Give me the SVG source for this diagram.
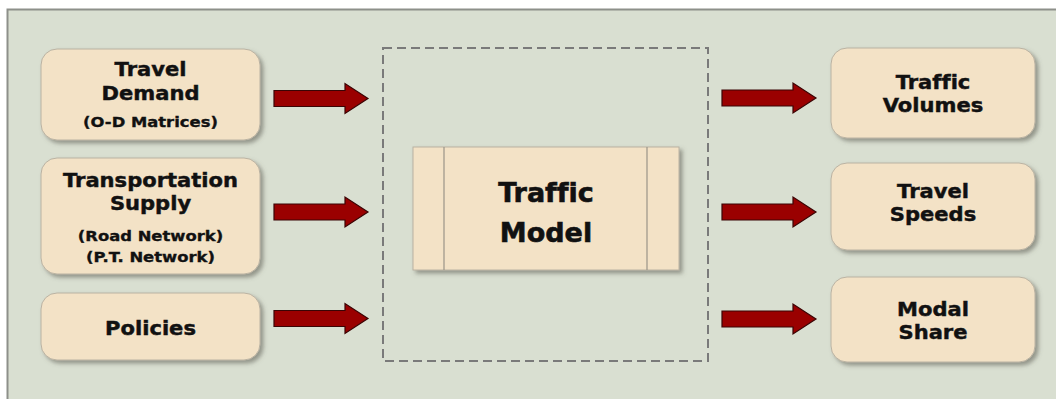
<svg xmlns="http://www.w3.org/2000/svg" width="1056" height="399" viewBox="0 0 1056 399">
  <style>
    text { font-variant-ligatures: none; }
    .node { fill: #f3e2c6; stroke: #b9b2a2; stroke-width: 1; filter: url(#shadow); }
    .label { font-family: "DejaVu Sans", Verdana, sans-serif; font-weight: bold; font-size: 19.5px; fill: #111; stroke: #111; stroke-width: 0.45; text-anchor: middle; }
    .sub { font-family: "DejaVu Sans", Verdana, sans-serif; font-weight: bold; font-size: 14.5px; fill: #111; stroke: #111; stroke-width: 0.35; text-anchor: middle; }
    .big { font-family: "DejaVu Sans", Verdana, sans-serif; font-weight: bold; font-size: 27px; fill: #111; stroke: #111; stroke-width: 0.6; text-anchor: middle; }
    .arrow { fill: #9a0000; stroke: #3a0505; stroke-width: 1.2; stroke-linejoin: miter; }
    .frame { fill: none; stroke: #7a7a7a; stroke-width: 2; stroke-dasharray: 9 5; }
  </style>
  <defs>
    <filter id="shadow" x="-10%" y="-10%" width="125%" height="130%">
      <feDropShadow dx="3" dy="3" stdDeviation="2" flood-color="#5a5a50" flood-opacity="0.55"/>
    </filter>
    <path id="arr" d="M0,-8 H71 V-15 L94,0 L71,15 V8 H0 Z"/>
  </defs>

  <!-- page and panel -->
  <rect x="0" y="0" width="1056" height="399" fill="#ffffff"/>
  <rect x="7" y="9" width="1049" height="390" fill="#d9dfd1"/>
  <path d="M7.5,399 V9.5 H1056" fill="none" stroke="#8d908a" stroke-width="2"/>

  <!-- dashed model boundary -->
  <rect class="frame" x="383" y="48" width="325" height="313"/>

  <!-- connectors -->
  <g id="connectors">
    <use href="#arr" class="arrow" transform="translate(274,98.5)"/>
    <use href="#arr" class="arrow" transform="translate(274,212)"/>
    <use href="#arr" class="arrow" transform="translate(274,318.5)"/>
    <use href="#arr" class="arrow" transform="translate(722,98)"/>
    <use href="#arr" class="arrow" transform="translate(722,212)"/>
    <use href="#arr" class="arrow" transform="translate(722,319)"/>
  </g>

  <!-- inputs -->
  <g id="travel-demand">
    <rect class="node" x="41" y="49" width="219" height="91" rx="16"/>
    <text class="label" transform="translate(150.5,76) scale(1.08,1)">Travel</text>
    <text class="label" transform="translate(150.5,100) scale(1.08,1)">Demand</text>
    <text class="sub" transform="translate(150.5,127) scale(1.13,1)">(O-D Matrices)</text>
  </g>
  <g id="transportation-supply">
    <rect class="node" x="41" y="158" width="219" height="116" rx="16"/>
    <text class="label" transform="translate(150.5,187) scale(1.08,1)">Transportation</text>
    <text class="label" transform="translate(150.5,210) scale(1.08,1)">Supply</text>
    <text class="sub" transform="translate(150.5,241) scale(1.13,1)">(Road Network)</text>
    <text class="sub" transform="translate(150.5,262) scale(1.13,1)">(P.T. Network)</text>
  </g>
  <g id="policies">
    <rect class="node" x="41" y="293" width="219" height="67" rx="16"/>
    <text class="label" transform="translate(150.5,335) scale(1.08,1)">Policies</text>
  </g>

  <!-- model -->
  <g id="traffic-model">
    <rect class="node" x="413" y="147" width="266" height="123" rx="0"/>
    <line x1="444" y1="147" x2="444" y2="270" stroke="#9a9488" stroke-width="1.2"/>
    <line x1="647" y1="147" x2="647" y2="270" stroke="#9a9488" stroke-width="1.2"/>
    <text class="big" x="546" y="202">Traffic</text>
    <text class="big" x="546" y="242">Model</text>
  </g>

  <!-- outputs -->
  <g id="traffic-volumes">
    <rect class="node" x="831" y="48" width="204" height="90" rx="16"/>
    <text class="label" transform="translate(933,89) scale(1.08,1)">Traffic</text>
    <text class="label" transform="translate(933,112) scale(1.08,1)">Volumes</text>
  </g>
  <g id="travel-speeds">
    <rect class="node" x="831" y="163" width="204" height="87" rx="16"/>
    <text class="label" transform="translate(933,198) scale(1.08,1)">Travel</text>
    <text class="label" transform="translate(933,221) scale(1.08,1)">Speeds</text>
  </g>
  <g id="modal-share">
    <rect class="node" x="831" y="277" width="204" height="85" rx="16"/>
    <text class="label" transform="translate(933,316) scale(1.08,1)">Modal</text>
    <text class="label" transform="translate(933,339) scale(1.08,1)">Share</text>
  </g>
</svg>
